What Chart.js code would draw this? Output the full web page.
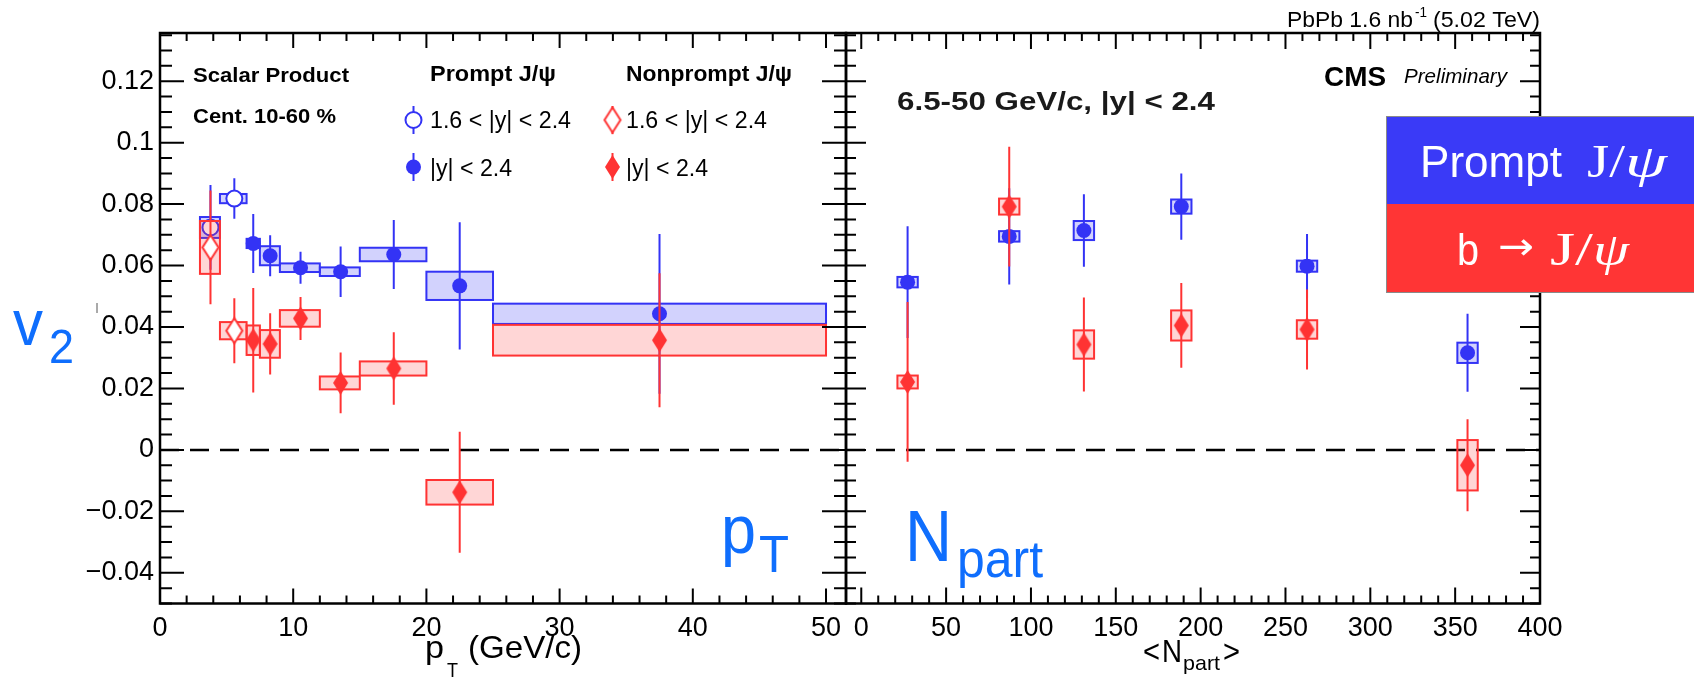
<!DOCTYPE html>
<html>
<head>
<meta charset="utf-8">
<script src="https://cdn.jsdelivr.net/npm/chart.js@4.4.1/dist/chart.umd.min.js"></script>
<style>
  html, body { margin: 0; padding: 0; background: #fff; }
  #wrap { position: relative; width: 1694px; height: 678px; overflow: hidden; background: #fff; }
  canvas { position: absolute; top: 0; }
  #ptChart { left: 0; }
  #npartChart { left: 800px; }
</style>
</head>
<body>
<div id="wrap">
  <canvas id="ptChart" width="900" height="678"></canvas>
  <canvas id="npartChart" width="894" height="678"></canvas>
</div>
<script>
// ---- tick labels ----
const v2Ticks = [-0.04, -0.02, 0, 0.02, 0.04, 0.06, 0.08, 0.1, 0.12]
const ptTicks = [0, 10, 20, 30, 40, 50]
const npartTicks = [0, 50, 100, 150, 200, 250, 300, 350, 400]

// ---- v2 vs pT, |y| < 2.4 ----
const ptBinLow = [6.5, 7.5, 9, 12, 15, 20, 25]
const ptBinHigh = [7.5, 9, 12, 15, 20, 25, 50]
const ptMean = [7.0, 8.27, 10.55, 13.56, 17.55, 22.5, 37.5]
const promptPtV2 = [0.0672, 0.0632, 0.0593, 0.0580, 0.0636, 0.0534, 0.0443]
const promptPtStat = [0.0096, 0.0067, 0.0052, 0.0082, 0.0112, 0.0207, 0.026]
const promptPtSyst = [0.0015, 0.0031, 0.0014, 0.0014, 0.0022, 0.0046, 0.0033]
const nonpromptPtV2 = [0.0357, 0.0345, 0.0428, 0.0218, 0.0265, -0.0138, 0.0357]
const nonpromptPtStat = [0.017, 0.010, 0.007, 0.0099, 0.0118, 0.0197, 0.0218]
const nonpromptPtSyst = [0.0048, 0.0045, 0.0027, 0.0021, 0.0023, 0.004, 0.005]

// ---- v2 vs pT, 1.6 < |y| < 2.4 ----
const fwdBinLow = [3, 4.5]
const fwdBinHigh = [4.5, 6.5]
const fwdMean = [3.79, 5.58]
const promptFwdV2 = [0.0724, 0.0818]
const promptFwdStat = [0.0138, 0.0066]
const promptFwdSyst = [0.0034, 0.0015]
const nonpromptFwdV2 = [0.0659, 0.0388]
const nonpromptFwdStat = [0.0185, 0.0106]
const nonpromptFwdSyst = [0.0086, 0.0028]

// ---- v2 vs <Npart>, 6.5-50 GeV/c ----
const npartMean = [27.3, 87.2, 131.2, 188.6, 262.7, 357.3]
const promptNpV2 = [0.0546, 0.0695, 0.0714, 0.0792, 0.0598, 0.0316]
const promptNpStat = [0.0182, 0.0157, 0.0118, 0.0108, 0.0105, 0.0127]
const promptNpSyst = [0.0017, 0.0017, 0.0031, 0.0023, 0.0018, 0.0033]
const nonpromptNpV2 = [0.0221, 0.0792, 0.0343, 0.0405, 0.0392, -0.005]
const nonpromptNpStat = [0.026, 0.0195, 0.0153, 0.0138, 0.013, 0.015]
const nonpromptNpSyst = [0.0021, 0.0026, 0.0046, 0.0049, 0.003, 0.0082]

// ---- look ----
const SANS = "'Liberation Sans', Arial, Helvetica, sans-serif"
const SERIF = "'Liberation Serif', 'Times New Roman', serif"
const BLUE = '#3333f5'
const BLUE_FILL = 'rgba(51,51,245,0.22)'
const RED = '#ff3333'
const RED_FILL = 'rgba(255,51,51,0.2)'
const AZURE = '#0f6efd'
const npBoxHalf = 6

function diamondImage(w, h, fill, stroke) {
  const c = document.createElement('canvas')
  c.width = w + 4
  c.height = h + 4
  const g = c.getContext('2d')
  g.beginPath()
  g.moveTo(c.width / 2, 2)
  g.lineTo(c.width - 2, c.height / 2)
  g.lineTo(c.width / 2, c.height - 2)
  g.lineTo(2, c.height / 2)
  g.closePath()
  g.fillStyle = fill
  g.fill()
  if (stroke) {
    g.lineWidth = 2
    g.strokeStyle = stroke
    g.stroke()
  }
  return c
}

const diamondFull = diamondImage(15, 24, RED)
const diamondOpen = diamondImage(16, 25, '#fff', RED)

function fmtTick(v) {
  if (Math.abs(v) < 1e-9) return '0'
  const s = String(+Math.abs(v).toFixed(3))
  return v < 0 ? '\u2212' + s : s
}

function points(xs, ys) {
  return xs.map((x, i) => ({ x, y: ys[i] }))
}

function series(label, xs, lo, hi, v2, stat, syst, color, fill, marker, order) {
  const base = {
    label,
    data: points(xs, v2),
    order,
    extra: { lo, hi, stat, syst, color, fill },
    showLine: false
  }
  if (marker === 'circle') {
    return { ...base, pointStyle: 'circle', pointRadius: 7.5, backgroundColor: color, borderWidth: 0 }
  }
  if (marker === 'openCircle') {
    return { ...base, pointStyle: 'circle', pointRadius: 8, backgroundColor: '#fff', borderColor: color, borderWidth: 2 }
  }
  return { ...base, pointStyle: marker, pointRadius: 8, backgroundColor: color, borderWidth: 0 }
}

function text(ctx, str, x, y, font, color, width) {
  ctx.save()
  ctx.font = font
  ctx.fillStyle = color
  ctx.textBaseline = 'alphabetic'
  ctx.textAlign = 'left'
  const w = ctx.measureText(str).width
  ctx.translate(x, y)
  if (width) ctx.scale(width / w, 1)
  ctx.fillText(str, 0, 0)
  ctx.restore()
}

// boxes, error bars, frame and inward ticks in the ROOT style
const rootFrame = {
  id: 'rootFrame',
  beforeDatasetsDraw(chart) {
    const { ctx, chartArea: a, scales: { y } } = chart
    const y0 = y.getPixelForValue(0)
    ctx.save()
    ctx.strokeStyle = '#000'
    ctx.lineWidth = 2.5
    ctx.setLineDash([19, 11])
    ctx.beginPath()
    ctx.moveTo(a.left, y0)
    ctx.lineTo(a.right, y0)
    ctx.stroke()
    ctx.restore()
  },
  beforeDatasetDraw(chart, args) {
    const ds = chart.data.datasets[args.index]
    const e = ds.extra
    if (!e) return
    const { ctx, chartArea: a, scales: { x, y } } = chart
    ctx.save()
    ctx.beginPath()
    ctx.rect(a.left, a.top, a.right - a.left, a.bottom - a.top)
    ctx.clip()
    ds.data.forEach((p, i) => {
      const x0 = x.getPixelForValue(e.lo[i])
      const x1 = x.getPixelForValue(e.hi[i])
      const yt = y.getPixelForValue(p.y + e.syst[i])
      const yb = y.getPixelForValue(p.y - e.syst[i])
      ctx.fillStyle = e.fill
      ctx.fillRect(x0, yt, x1 - x0, yb - yt)
      ctx.strokeStyle = e.color
      ctx.lineWidth = 2
      ctx.strokeRect(x0, yt, x1 - x0, yb - yt)
      const xc = x.getPixelForValue(p.x)
      ctx.beginPath()
      ctx.moveTo(xc, y.getPixelForValue(p.y + e.stat[i]))
      ctx.lineTo(xc, y.getPixelForValue(p.y - e.stat[i]))
      ctx.stroke()
    })
    ctx.restore()
  },
  afterDatasetsDraw(chart, args, o) {
    const { ctx, chartArea: a, scales: { x, y } } = chart
    ctx.save()
    ctx.strokeStyle = '#000'
    ctx.lineWidth = 2
    ctx.beginPath()
    const xk0 = Math.ceil(x.min / o.xMinor - 1e-6)
    const xk1 = Math.floor(x.max / o.xMinor + 1e-6)
    for (let k = xk0; k <= xk1; k++) {
      const v = k * o.xMinor
      const px = x.getPixelForValue(v)
      const major = Math.abs(v / o.xMajor - Math.round(v / o.xMajor)) < 1e-6
      const L = major ? o.xMajorLen : o.xMinorLen
      ctx.moveTo(px, a.bottom)
      ctx.lineTo(px, a.bottom - L)
      ctx.moveTo(px, a.top)
      ctx.lineTo(px, a.top + L)
    }
    const yk0 = Math.ceil(y.min / o.yMinor - 1e-6)
    const yk1 = Math.floor(y.max / o.yMinor + 1e-6)
    for (let k = yk0; k <= yk1; k++) {
      const v = k * o.yMinor
      const py = y.getPixelForValue(v)
      const major = Math.abs(v / o.yMajor - Math.round(v / o.yMajor)) < 1e-6
      const L = major ? o.yMajorLen : o.yMinorLen
      ctx.moveTo(a.left, py)
      ctx.lineTo(a.left + L, py)
      ctx.moveTo(a.right, py)
      ctx.lineTo(a.right - L, py)
    }
    ctx.stroke()
    ctx.lineWidth = 2.5
    ctx.strokeRect(a.left, a.top, a.right - a.left, a.bottom - a.top)
    ctx.restore()
  }
}

const ptTexts = {
  id: 'ptTexts',
  afterDraw(chart) {
    const ctx = chart.ctx
    const bold = s => 'bold ' + s + 'px ' + SANS
    const reg = s => s + 'px ' + SANS
    text(ctx, 'Scalar Product', 193, 82, bold(21), '#000', 156)
    text(ctx, 'Cent. 10-60 %', 193, 123, bold(21), '#000', 143)
    text(ctx, 'Prompt J/\u03c8', 430, 81, bold(22), '#000', 126)
    text(ctx, 'Nonprompt J/\u03c8', 626, 81, bold(22), '#000', 166)
    text(ctx, '1.6 < |y| < 2.4', 430, 128, reg(23), '#000', 141)
    text(ctx, '|y| < 2.4', 430, 176, reg(23), '#000', 82)
    text(ctx, '1.6 < |y| < 2.4', 626, 128, reg(23), '#000', 141)
    text(ctx, '|y| < 2.4', 626, 176, reg(23), '#000', 82)

    // legend markers
    ctx.save()
    ctx.lineWidth = 2
    ctx.strokeStyle = BLUE
    ctx.beginPath()
    ctx.moveTo(413.5, 106); ctx.lineTo(413.5, 134)
    ctx.moveTo(413.5, 153); ctx.lineTo(413.5, 181)
    ctx.stroke()
    ctx.beginPath()
    ctx.arc(413.5, 120, 8, 0, Math.PI * 2)
    ctx.fillStyle = '#fff'
    ctx.fill()
    ctx.stroke()
    ctx.beginPath()
    ctx.arc(413.5, 167, 7.5, 0, Math.PI * 2)
    ctx.fillStyle = BLUE
    ctx.fill()
    ctx.strokeStyle = RED
    ctx.beginPath()
    ctx.moveTo(612.5, 106); ctx.lineTo(612.5, 134)
    ctx.moveTo(612.5, 153); ctx.lineTo(612.5, 181)
    ctx.stroke()
    ctx.drawImage(diamondOpen, 612.5 - diamondOpen.width / 2, 120 - diamondOpen.height / 2)
    ctx.drawImage(diamondFull, 612.5 - diamondFull.width / 2, 167 - diamondFull.height / 2)
    ctx.restore()

    // big labels
    text(ctx, 'v', 13, 345, reg(64), AZURE, 30)
    text(ctx, '2', 49, 363, reg(48), AZURE, 25)
    text(ctx, 'p', 721, 553, reg(68), AZURE, 35)
    text(ctx, 'T', 759, 572, reg(52), AZURE, 30)

    // axis title
    text(ctx, 'p', 425, 658, reg(32), '#000', 19)
    text(ctx, 'T', 447, 677, reg(21), '#000', 11)
    text(ctx, '(GeV/c)', 468, 658, reg(32), '#000', 114)

    ctx.save()
    ctx.strokeStyle = '#555'
    ctx.lineWidth = 1
    ctx.beginPath()
    ctx.moveTo(97, 303); ctx.lineTo(97, 313)
    ctx.stroke()
    ctx.restore()
  }
}

const npartTexts = {
  id: 'npartTexts',
  afterDraw(chart) {
    const ctx = chart.ctx
    const bold = s => 'bold ' + s + 'px ' + SANS
    const reg = s => s + 'px ' + SANS
    ctx.save()
    ctx.translate(-800, 0)
    text(ctx, 'PbPb 1.6 nb', 1287, 27, reg(22), '#000', 126)
    text(ctx, '-1', 1415, 17, reg(14), '#000', 12)
    text(ctx, '(5.02 TeV)', 1433, 27, reg(22), '#000', 107)
    text(ctx, 'CMS', 1324, 86, bold(27), '#000', 62)
    text(ctx, 'Preliminary', 1404, 83, 'italic ' + reg(21), '#000', 103)
    text(ctx, '6.5-50 GeV/c, |y| < 2.4', 897, 110, bold(25), '#1a1a1a', 318)

    text(ctx, 'N', 905, 561, reg(72), AZURE, 47)
    text(ctx, 'part', 957, 577, reg(51), AZURE, 86)

    text(ctx, '<', 1143, 662, reg(32), '#000', 17)
    text(ctx, 'N', 1162, 662, reg(32), '#000', 20)
    text(ctx, 'part', 1183, 670, reg(21), '#000', 37)
    text(ctx, '>', 1223, 662, reg(32), '#000', 17)

    // species boxes
    ctx.fillStyle = '#3a3af7'
    ctx.fillRect(1386, 117, 308, 87)
    ctx.fillStyle = '#ff3535'
    ctx.fillRect(1386, 204, 308, 88)
    ctx.strokeStyle = '#8a8a8a'
    ctx.lineWidth = 1
    ctx.strokeRect(1386.5, 116.5, 310, 176)
    text(ctx, 'Prompt', 1420, 177, reg(44), '#fff', 142)
    text(ctx, 'J/', 1587, 177, '46px ' + SERIF, '#fff', 38)
    text(ctx, '\u03c8', 1625, 177, 'italic 46px ' + SERIF, '#fff', 42)
    text(ctx, 'b', 1457, 265, reg(44), '#fff', 22)
    text(ctx, '\u2192', 1498, 259, "38px 'DejaVu Sans', sans-serif", '#fff', 36)
    text(ctx, 'J/', 1550, 265, '46px ' + SERIF, '#fff', 43)
    text(ctx, '\u03c8', 1593, 265, 'italic 46px ' + SERIF, '#fff', 36)
    ctx.restore()
  }
}

function yAxis(display, width) {
  return {
    type: 'linear',
    min: -0.05,
    max: 0.1357,
    display,
    grid: { display: false, drawTicks: false },
    border: { display: false },
    ticks: {
      font: { family: SANS, size: 27 },
      color: '#000',
      padding: 6,
      callback: fmtTick
    },
    afterBuildTicks: s => { s.ticks = v2Ticks.map(v => ({ value: v })) },
    afterFit: s => { s.width = width }
  }
}

function xAxis(min, max, ticks) {
  return {
    type: 'linear',
    min,
    max,
    grid: { display: false, drawTicks: false },
    border: { display: false },
    ticks: {
      font: { family: SANS, size: 27 },
      color: '#000',
      padding: 9,
      maxRotation: 0,
      autoSkip: false,
      callback: fmtTick
    },
    afterBuildTicks: s => { s.ticks = ticks.map(v => ({ value: v })) },
    afterFit: s => { s.height = 74.5 }
  }
}

const common = {
  responsive: false,
  animation: false,
  events: [],
  plugins: { legend: { display: false }, tooltip: { enabled: false } }
}

new Chart(document.getElementById('ptChart'), {
  type: 'scatter',
  data: {
    datasets: [
      series('Prompt 1.6<|y|<2.4', fwdMean, fwdBinLow, fwdBinHigh, promptFwdV2, promptFwdStat, promptFwdSyst, BLUE, BLUE_FILL, 'openCircle', 3),
      series('Prompt |y|<2.4', ptMean, ptBinLow, ptBinHigh, promptPtV2, promptPtStat, promptPtSyst, BLUE, BLUE_FILL, 'circle', 2),
      series('Nonprompt 1.6<|y|<2.4', fwdMean, fwdBinLow, fwdBinHigh, nonpromptFwdV2, nonpromptFwdStat, nonpromptFwdSyst, RED, RED_FILL, diamondOpen, 1),
      series('Nonprompt |y|<2.4', ptMean, ptBinLow, ptBinHigh, nonpromptPtV2, nonpromptPtStat, nonpromptPtSyst, RED, RED_FILL, diamondFull, 0)
    ]
  },
  options: {
    ...common,
    layout: { padding: { top: 33, right: 54, left: 0, bottom: 0 } },
    scales: { x: xAxis(0, 51.5, ptTicks), y: yAxis(true, 160) },
    plugins: {
      ...common.plugins,
      rootFrame: { xMinor: 2, xMajor: 10, xMajorLen: 15, xMinorLen: 8, yMinor: 0.005, yMajor: 0.02, yMajorLen: 24, yMinorLen: 12 }
    }
  },
  plugins: [rootFrame, ptTexts]
})

const npLow = npartMean.map(v => v - npBoxHalf)
const npHigh = npartMean.map(v => v + npBoxHalf)

new Chart(document.getElementById('npartChart'), {
  type: 'scatter',
  data: {
    datasets: [
      series('Prompt', npartMean, npLow, npHigh, promptNpV2, promptNpStat, promptNpSyst, BLUE, BLUE_FILL, 'circle', 1),
      series('Nonprompt', npartMean, npLow, npHigh, nonpromptNpV2, nonpromptNpStat, nonpromptNpSyst, RED, RED_FILL, diamondFull, 0)
    ]
  },
  options: {
    ...common,
    layout: { padding: { top: 33, right: 154, left: 46, bottom: 0 } },
    scales: { x: xAxis(-9, 400, npartTicks), y: yAxis(false, 0) },
    plugins: {
      ...common.plugins,
      rootFrame: { xMinor: 10, xMajor: 50, xMajorLen: 16, xMinorLen: 8, yMinor: 0.005, yMajor: 0.02, yMajorLen: 20, yMinorLen: 10 }
    }
  },
  plugins: [rootFrame, npartTexts]
})
</script>
</body>
</html>
